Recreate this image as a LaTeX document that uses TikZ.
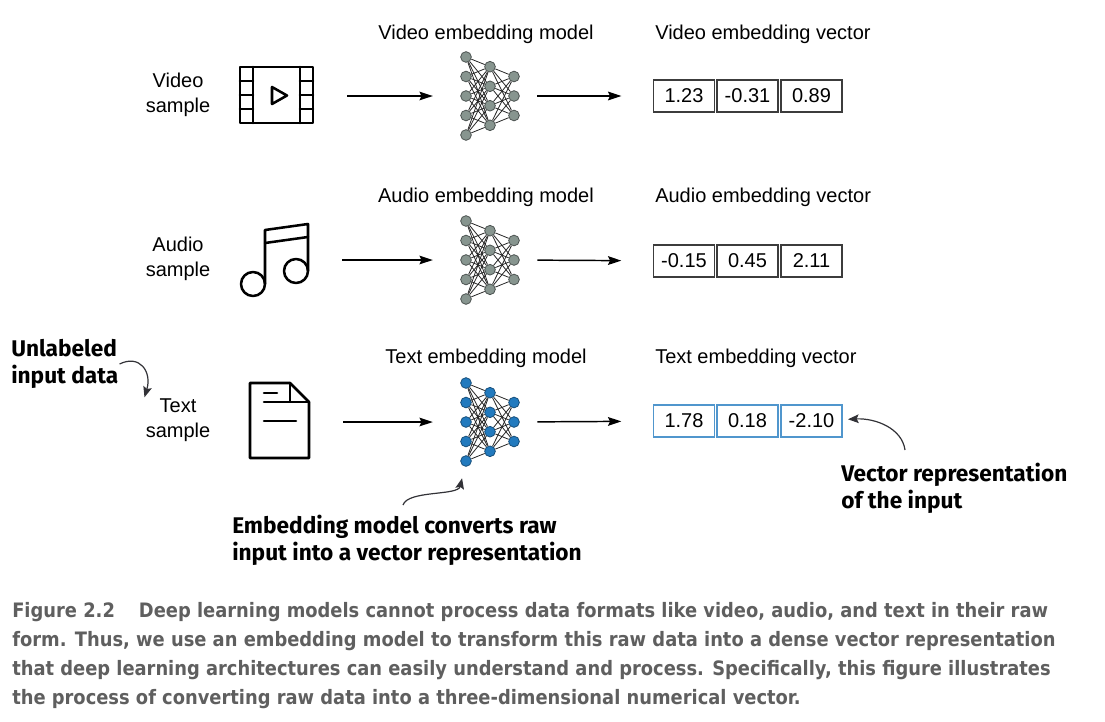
\documentclass[tikz,border=0pt]{standalone}
\usepackage{fontspec}
\setmainfont{Liberation Sans}
\newfontfamily\notefont{Fira Sans}
\newfontfamily\capfont{DejaVu Sans Condensed}
\usepackage{tikz}
\usetikzlibrary{arrows.meta}

\definecolor{nodegray}{RGB}{135,149,143}
\definecolor{nodegrayline}{RGB}{75,82,80}
\definecolor{nodeblue}{RGB}{34,122,190}
\definecolor{nodeblueline}{RGB}{22,78,122}
\definecolor{boxline}{RGB}{60,60,60}
\definecolor{boxblue}{RGB}{80,150,205}
\definecolor{capgray}{RGB}{95,95,95}
\definecolor{notegray}{RGB}{50,50,55}

\tikzset{
  txt/.style={font=\fontsize{15}{18.75}\selectfont, inner sep=0.75pt},
  note/.style={font=\notefont\bfseries\fontsize{17}{20.5}\selectfont, inner sep=0.75pt, align=left, text=black},
  icon/.style={line width=1.9pt, line join=round, line cap=round},
  neuron/.style={circle, minimum size=8pt, inner sep=0pt, line width=0.6pt},
  synapse/.style={line width=0.6pt, draw=black!85},
  vecbox/.style={draw=boxline, line width=1pt, minimum width=45.75pt, minimum height=24pt, inner sep=0pt, font=\fontsize{15}{18}\selectfont},
  flow/.style={line width=1.1pt, -{Stealth[length=10pt,width=6.5pt,inset=1.5pt]}},
  note arrow/.style={line width=0.9pt, draw=notegray, -{Stealth[length=8pt,width=6.5pt,inset=1.5pt]}, fill=none}
}

\begin{document}
\begin{tikzpicture}[x=0.75pt,y=0.75pt,yscale=-1,xscale=1]
\useasboundingbox (0,0) rectangle (1105,721);

%Shape: Film strip
\draw[icon] (240,67) rectangle (313,123);
\draw[icon] (253,67) -- (253,123);
\draw[icon] (300,67) -- (300,123);
\draw[icon] (240,81) -- (253,81) (240,95) -- (253,95) (240,109) -- (253,109);
\draw[icon] (300,81) -- (313,81) (300,95) -- (313,95) (300,109) -- (313,109);
\draw[icon] (272,87) -- (287,95.5) -- (272,104) -- cycle;
\coordinate (vidIcon) at (313,96);

%Shape: Music note
\draw[icon] (253,284) circle (12);
\draw[icon] (296,271) circle (12);
\draw[icon] (265,284) -- (265,230) -- (308,224) -- (308,271);
\draw[icon] (265,243) -- (308,237);
\coordinate (audIcon) at (308,260);

%Shape: Document
\draw[icon] (250,383) -- (290,383) -- (309,402) -- (309,458) -- (250,458) -- cycle;
\draw[icon] (290,383) -- (290,402) -- (309,402);
\draw[icon] (264,393) -- (277,393);
\draw[icon] (264,402) -- (290,402);
\draw[icon] (264,421) -- (296,421);
\coordinate (txtIcon) at (309,422);

%Networks
\foreach \net/\cy/\fillc/\linec in {vid/96/nodegray/nodegrayline, aud/260/nodegray/nodegrayline, txt/422/nodeblue/nodeblueline}{
  \foreach \i/\dy in {1/-39,2/-19.5,3/0,4/19.5,5/39}
    \node[neuron, fill=\fillc, draw=\linec] (\net L\i) at (466,\cy+\dy) {};
  \foreach \j/\dy in {1/-29.3,2/-9.7,3/9.7,4/29.3}
    \node[neuron, fill=\fillc, draw=\linec] (\net M\j) at (490,\cy+\dy) {};
  \foreach \k/\dy in {1/-19.5,2/0,3/19.5}
    \node[neuron, fill=\fillc, draw=\linec] (\net R\k) at (514,\cy+\dy) {};
  \foreach \i in {1,...,5}
    \foreach \j in {1,...,4}
      \draw[synapse] (\net L\i) -- (\net M\j);
  \foreach \j in {1,...,4}
    \foreach \k in {1,2,3}
      \draw[synapse] (\net M\j) -- (\net R\k);
}

% Vectors
\node[vecbox] (vid1) at (684,96) {1.23};
\node[vecbox] (vid2) at (747.5,96) {-0.31};
\node[vecbox] (vid3) at (811.5,96) {0.89};
\node[vecbox] (aud1) at (684,261) {-0.15};
\node[vecbox] (aud2) at (747.5,261) {0.45};
\node[vecbox] (aud3) at (811.5,261) {2.11};
\node[vecbox, draw=boxblue] (txt1) at (684,421) {1.78};
\node[vecbox, draw=boxblue] (txt2) at (747.5,421) {0.18};
\node[vecbox, draw=boxblue] (txt3) at (811.5,421) {-2.10};

% Flow arrows
\foreach \net in {vid,aud,txt}{
  \draw[flow, shorten <=25.5pt, shorten >=20.6pt] (\net Icon) -- (\net L3);
  \draw[flow, shorten <=13.3pt, shorten >=23.6pt] (\net R2) -- (\net 1);
}

% Text Node
\node[txt, align=center] (vidSample) at (178,95) {Video\\sample};
% Text Node
\node[txt] (vidModel) at (486,34) {Video embedding model};
% Text Node
\node[txt, anchor=west] (vidVector) at (654,34) {Video embedding vector};
% Text Node
\node[txt, align=center] (audSample) at (178,259) {Audio\\sample};
% Text Node
\node[txt] (audModel) at (486,197) {Audio embedding model};
% Text Node
\node[txt, anchor=west] (audVector) at (654,197) {Audio embedding vector};
% Text Node
\node[txt, align=center] (txtSample) at (178,420) {Text\\sample};
% Text Node
\node[txt] (txtModel) at (486,358) {Text embedding model};
% Text Node
\node[txt, anchor=west] (txtVector) at (654,358) {Text embedding vector};

% Notes
\node[note, anchor=west] (unlabNote) at (10,364) {Unlabeled\\input data};
\node[note, anchor=west] (embNote) at (231,540) {Embedding model converts raw\\input into a vector representation};
\node[note, anchor=west] (vecNote) at (840,488) {Vector representation\\of the input};
\coordinate (embStart) at (403,505);
\coordinate (vecStart) at (905,450);
\draw[note arrow] (unlabNote.east) .. controls (140,354) and (152,372) .. (txtSample.north west);
\draw[note arrow, shorten >=9pt] (embStart) .. controls (408,490) and (458,496) .. (txtL5);
\draw[note arrow, shorten >=4pt] (vecStart) .. controls (902,428) and (875,418) .. (txt3);

% Caption
\node[anchor=west, inner sep=0pt, align=left, text=capgray, font=\capfont\bfseries\fontsize{14.9}{21.75}\selectfont] (caption) at (12,655.5) {Figure 2.2\hspace{18pt}Deep learning models cannot process data formats like video, audio, and text in their raw\\form. Thus, we use an embedding model to transform this raw data into a dense vector representation\\that deep learning architectures can easily understand and process. Specifically, this figure illustrates\\the process of converting raw data into a three-dimensional numerical vector.};

\end{tikzpicture}
\end{document}
